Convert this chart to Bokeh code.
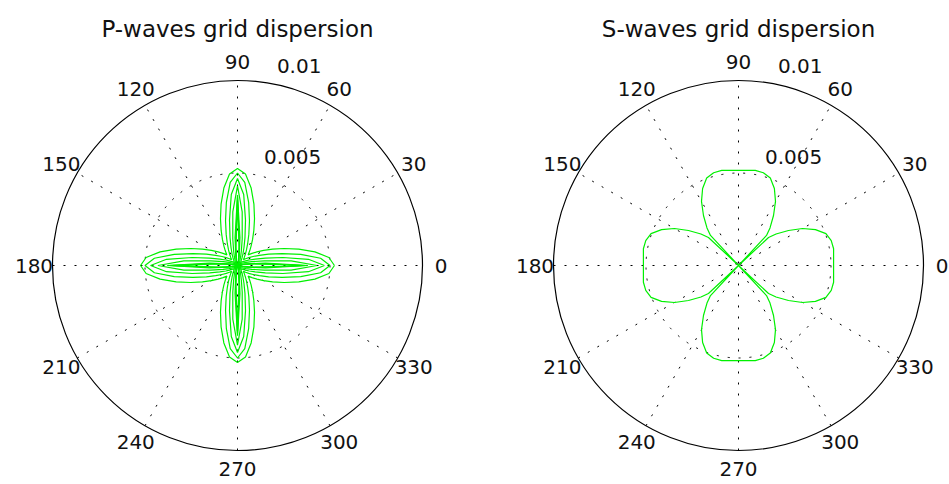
import numpy as np
from bokeh.plotting import figure
from bokeh.models import Range1d
from bokeh.embed import file_html
from bokeh.resources import INLINE
from bokeh.core.properties import value

# ---------------- data ----------------
# grid dispersion (x 1e-3) versus propagation angle (deg); each curve is
# 4-fold symmetric, so one eighth (0..45 deg) is listed
p_angles = [0, 5, 10, 15, 20, 25, 30, 35, 40, 45]
p_curve1 = [5.24, 4.96, 4.25, 3.43, 2.69, 2.09, 1.63, 1.28, 1.02, 0.81]
p_curve2 = [5.00, 4.51, 3.47, 2.50, 1.79, 1.30, 0.97, 0.74, 0.57, 0.45]
p_curve3 = [4.70, 3.85, 2.49, 1.56, 1.02, 0.70, 0.50, 0.37, 0.28, 0.22]
p_curve4 = [4.30, 2.91, 1.47, 0.80, 0.49, 0.32, 0.22, 0.16, 0.12, 0.09]
p_curve5 = [3.80, 1.52, 0.54, 0.26, 0.15, 0.10, 0.07, 0.05, 0.04, 0.03]
p_curve6 = [3.70, 1.20, 0.40, 0.20, 0.12, 0.08, 0.06, 0.04, 0.03, 0.02]
p_curve7 = [3.55, 0.95, 0.30, 0.15, 0.09, 0.06, 0.04, 0.03, 0.02, 0.02]

s_angles = [0, 5, 10, 15, 20, 25, 30, 35, 40, 43, 45]
s_curve1 = [5.14, 5.16, 5.22, 5.19, 5.03, 4.59, 4.00, 3.30, 2.65, 2.22, 0.00]

spoke_angles = [0, 30, 60, 90, 120, 150]
angle_labels = [0, 30, 60, 90, 120, 150, 180, 210, 240, 270, 300, 330]
r_ticks = [0.005, 0.01]
r_tick_labels = ["0.005", "0.01"]
titles = ["P-waves grid dispersion", "S-waves grid dispersion"]

# ---------------- layout ----------------
SCALE = 18500.0          # px per data unit
W, H = 949, 484
LEFT_CX, RIGHT_CX, CY = 237, 738, 265   # screen px of polar centres
RMAX = 0.01
RINC = 0.005

x0 = (0 - LEFT_CX) / SCALE
x1 = (W - LEFT_CX) / SCALE
y0 = (CY - H) / SCALE
y1 = (CY - 0) / SCALE
centers = [0.0, (RIGHT_CX - LEFT_CX) / SCALE]

p = figure(width=W, height=H, output_backend="svg", toolbar_location=None,
           x_range=Range1d(x0, x1), y_range=Range1d(y0, y1),
           x_axis_location=None, y_axis_location=None, min_border=0)
p.grid.visible = False
p.outline_line_color = None
p.background_fill_color = "white"
p.border_fill_color = "white"

FONT = value("DejaVu Sans")
GREEN = "#00f000"


def full_curve(angles, vals):
    th, rr = [], []
    for q in range(4):
        base = 90 * q
        for a, v in zip(angles, vals):
            th.append(base + a)
            rr.append(v)
        for a, v in zip(angles[-2::-1], vals[-2::-1]):
            th.append(base + 90 - a)
            rr.append(v)
    th = np.radians(np.array(th, dtype=float))
    rr = np.array(rr) * 1e-3
    return rr * np.cos(th), rr * np.sin(th)


def polar_frame(cx, title):
    a = np.radians(spoke_angles)
    p.segment(x0=cx - RMAX * np.cos(a), y0=-RMAX * np.sin(a),
              x1=cx + RMAX * np.cos(a), y1=RMAX * np.sin(a),
              line_color="black", line_width=1, line_dash="2 9")
    for r in r_ticks[:-1]:
        p.circle(x=[cx], y=[0], radius=r, fill_color=None,
                 line_color="black", line_width=1, line_dash="2 9")
    p.circle(x=[cx], y=[0], radius=RMAX, fill_color=None,
             line_color="black", line_width=1.2)
    la = np.radians(angle_labels)
    rt = 1.1 * RMAX
    p.text(x=cx + rt * np.cos(la), y=rt * np.sin(la),
           text=[str(v) for v in angle_labels],
           text_align="center", text_baseline="middle",
           text_font=FONT, text_font_size="20px", text_color="#111111")
    c82, s82 = np.cos(np.radians(82)), np.sin(np.radians(82))
    rr = np.array(r_ticks) + RINC / 20
    p.text(x=cx + rr * c82, y=rr * s82, text=r_tick_labels,
           text_align="left", text_baseline="bottom", x_offset=13, y_offset=-5,
           text_font=FONT, text_font_size="20px", text_color="#111111")
    p.text(x=[cx], y=[(CY - 28) / SCALE], text=[title],
           text_align="center", text_baseline="alphabetic",
           text_font=FONT, text_font_size="23px", text_color="#111111")


polar_frame(centers[0], titles[0])
polar_frame(centers[1], titles[1])

for vals in [p_curve1, p_curve2, p_curve3, p_curve4, p_curve5, p_curve6, p_curve7]:
    xs, ys = full_curve(p_angles, vals)
    p.line(centers[0] + xs, ys, line_color=GREEN, line_width=1.2)

xs, ys = full_curve(s_angles, s_curve1)
p.line(centers[1] + xs, ys, line_color=GREEN, line_width=1.2)

open("out.html", "w").write(file_html(p, INLINE))
